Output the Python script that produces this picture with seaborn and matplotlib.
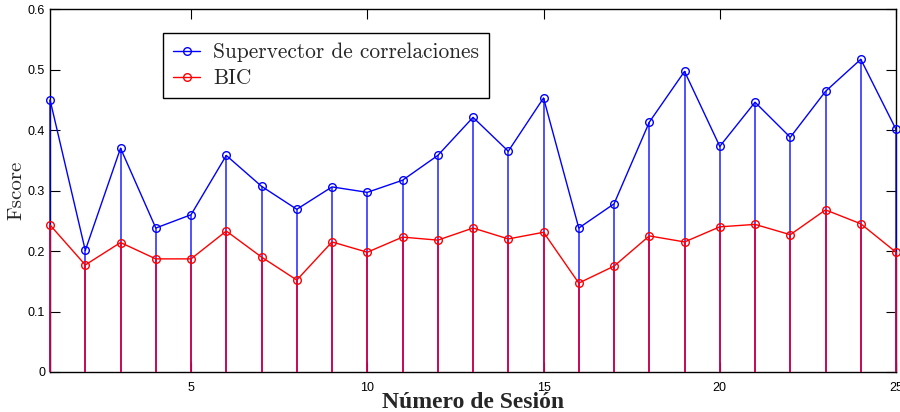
import numpy as np
import pandas as pd
import matplotlib
matplotlib.use("Agg")
import matplotlib.pyplot as plt
import seaborn as sns

sesiones = list(range(1, 26))
supervector = [0.450, 0.201, 0.370, 0.238, 0.260, 0.358, 0.307, 0.269, 0.306, 0.297,
               0.317, 0.358, 0.421, 0.365, 0.453, 0.238, 0.278, 0.413, 0.497, 0.373,
               0.446, 0.388, 0.464, 0.517, 0.401]
bic = [0.243, 0.177, 0.214, 0.187, 0.187, 0.233, 0.190, 0.152, 0.215, 0.198,
       0.223, 0.218, 0.238, 0.220, 0.231, 0.147, 0.175, 0.225, 0.215, 0.240,
       0.244, 0.227, 0.268, 0.245, 0.198]
series_names = ["Supervector de correlaciones", "BIC"]
series_colors = ["#0000ff", "#ff0000"]
xticks = [5, 10, 15, 20, 25]
yticks = [0, 0.1, 0.2, 0.3, 0.4, 0.5, 0.6]

sns.set_style("ticks")
plt.rcParams["font.family"] = ["Liberation Sans", "DejaVu Sans"]

fig = plt.figure(figsize=(9, 4.12), dpi=100)
ax = fig.add_axes([0.0556, 0.0971, 0.94, 0.8809])

# stems from zero up to each value
ax.vlines(sesiones, 0, supervector, color="#0000ff", lw=1.2, alpha=0.8, zorder=1,
          clip_on=False)
ax.vlines(sesiones, 0, bic, color="#e0003a", lw=1.4, alpha=0.85, zorder=2,
          clip_on=False)

for name, values, color in zip(series_names, [supervector, bic], series_colors):
    df = pd.DataFrame({"sesion": sesiones, "fscore": values})
    sns.lineplot(data=df, x="sesion", y="fscore", color=color, label=name,
                 marker="o", markersize=5.5, markerfacecolor="none",
                 markeredgecolor=color, markeredgewidth=1.0,
                 linewidth=1.0, ax=ax, zorder=3, legend=False, clip_on=False)

ax.set_xlim(1, 25)
ax.set_ylim(0, 0.6)
ax.set_xticks(xticks)
ax.set_yticks(yticks)
ax.set_yticklabels(["0", "0.1", "0.2", "0.3", "0.4", "0.5", "0.6"])
ax.tick_params(direction="in", length=7, width=0.8, labelsize=9,
               top=True, right=True, colors="black")
ax.tick_params(axis="x", pad=7)
for s in ax.spines.values():
    s.set_visible(True)
    s.set_linewidth(1.0)
    s.set_color("black")
    s.set_zorder(0.5)

ax.set_ylabel("Fscore", family=["cmr10", "DejaVu Serif"], fontsize=15, labelpad=2)
ax.set_xlabel("Número de Sesión", family=["Liberation Serif", "DejaVu Serif"],
              fontsize=17, fontweight="bold", labelpad=-1)

leg = ax.legend(handles=ax.lines[:2], labels=series_names,
                loc="upper left", bbox_to_anchor=(0.1336, 0.934), borderaxespad=0,
                frameon=True, fancybox=False, edgecolor="black", framealpha=1,
                prop={"family": ["cmr10", "DejaVu Serif"], "size": 15.4},
                handlelength=1.3, handletextpad=0.6, borderpad=0.45,
                labelspacing=0.3)
leg.get_frame().set_linewidth(1.0)

fig.savefig("out.png", dpi=100)
